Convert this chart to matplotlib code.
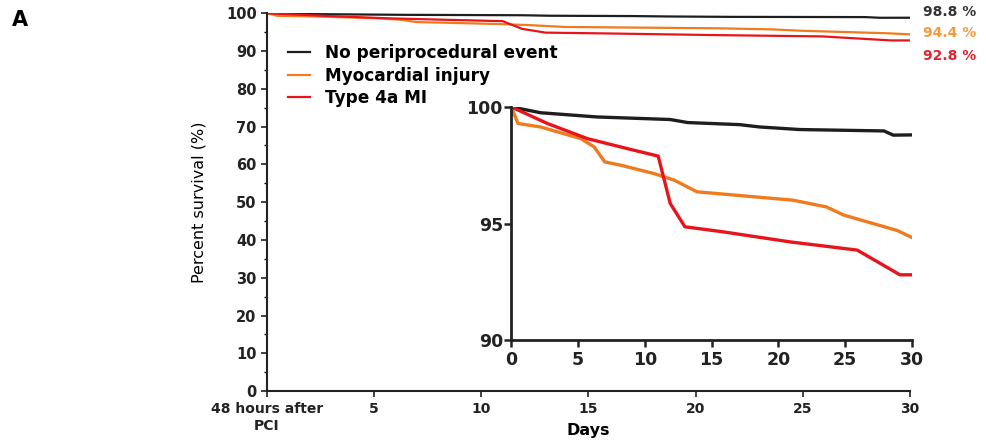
import matplotlib.pyplot as plt
from matplotlib.ticker import MultipleLocator

plt.rcParams['font.family'] = ['DejaVu Sans']

# Kaplan-Meier style survival curves (days after PCI, percent survival)
none_days = [0, 2.2, 6.4, 11.9, 13.2, 17.1, 18.6, 21.6, 27.9, 28.6, 30]
none_surv = [100, 99.75, 99.57, 99.46, 99.33, 99.24, 99.14, 99.03, 98.97, 98.79, 98.8]

injury_days = [0, 0.5, 2.2, 5.2, 6.2, 7.0, 8.2, 10.7, 12.2, 13.9, 21.1, 23.6, 24.9, 28.9, 30]
injury_surv = [100, 99.29, 99.14, 98.64, 98.29, 97.64, 97.5, 97.14, 96.86, 96.36, 96.0, 95.71, 95.36, 94.7, 94.4]

mi_days = [0, 2.7, 5.7, 8.7, 11.0, 11.9, 13.0, 15.9, 20.9, 25.9, 29.1, 30]
mi_surv = [100, 99.29, 98.64, 98.21, 97.89, 95.86, 94.86, 94.64, 94.21, 93.86, 92.8, 92.8]

series_names = ["No periprocedural event", "Myocardial injury", "Type 4a MI"]
line_colors = ["#1e1e1e", "#f07a1e", "#e8141c"]
label_colors = ["#333333", "#f59a3c", "#e0222e"]

x_ticks = [0, 5, 10, 15, 20, 25, 30]
x_labels = ["48 hours after\nPCI", "5", "10", "15", "20", "25", "30"]

series = [(none_days, none_surv), (injury_days, injury_surv), (mi_days, mi_surv)]

fig = plt.figure(figsize=(9.87, 4.4), dpi=100)

## main panel
ax = fig.add_axes([0.2705, 0.111, 0.6515, 0.859])
for (d, s), name, col in zip(series, series_names, line_colors):
    ax.plot(d, s, color=col, lw=1.6, label=name)

ax.set_xlim(0, 30)
ax.set_ylim(0, 100)
ax.set_xticks(x_ticks)
ax.set_xticklabels(x_labels, fontsize=10, fontweight='bold', color='#222222',
                   linespacing=1.3)
ax.set_yticks(range(0, 101, 10))
ax.yaxis.set_minor_locator(MultipleLocator(5))
ax.tick_params(axis='y', labelsize=10.5, width=1.2, length=4, colors='#222222')
ax.tick_params(axis='y', which='minor', length=2.5, width=1)
ax.tick_params(axis='x', width=1.2, length=4, colors='#222222')
for lab in ax.get_yticklabels():
    lab.set_fontweight('bold')
for sp in ['top', 'right']:
    ax.spines[sp].set_visible(False)
for sp in ['left', 'bottom']:
    ax.spines[sp].set_linewidth(1.5)
    ax.spines[sp].set_color('#222222')
ax.set_xlabel("Days", fontsize=11.5, fontweight='bold', labelpad=-7)
ax.set_ylabel("Percent survival (%)", fontsize=11.5, labelpad=14)

# end values at the right
offsets = [4, 1, -11.5]
for (d, s), col, dy in zip(series, label_colors, offsets):
    ax.annotate(f"{s[-1]:.1f} %", xy=(d[-1], s[-1]), xytext=(9, dy),
                textcoords='offset points', va='center', ha='left',
                fontsize=10, fontweight='bold', color=col, annotation_clip=False)

leg = ax.legend(loc='upper left', bbox_to_anchor=(0.009, 0.958), frameon=False,
                prop={'weight': 'bold', 'size': 12.2}, handlelength=1.3,
                handletextpad=0.88, labelspacing=0.25)

fig.text(0.012, 0.955, "A", fontsize=15, fontweight='bold', va='center')

## inset zoom 90-100 %
ins = fig.add_axes([0.518, 0.227, 0.406, 0.530])
for (d, s), col in zip(series, line_colors):
    ins.plot(d, s, color=col, lw=2.4)
ins.set_xlim(0, 30)
ins.set_ylim(90, 100)
ins.set_xticks(x_ticks)
ins.set_yticks([90, 95, 100])
ins.tick_params(labelsize=12.5, width=1.8, length=5, colors='#222222')
ins.tick_params(axis='x', pad=3)
ins.tick_params(axis='y', pad=1)
for lab in ins.get_xticklabels() + ins.get_yticklabels():
    lab.set_fontweight('bold')
for sp in ['top', 'right']:
    ins.spines[sp].set_visible(False)
for sp in ['left', 'bottom']:
    ins.spines[sp].set_linewidth(2)
    ins.spines[sp].set_color('#222222')
ins.patch.set_alpha(0)

plt.savefig("out.png", dpi=100)
